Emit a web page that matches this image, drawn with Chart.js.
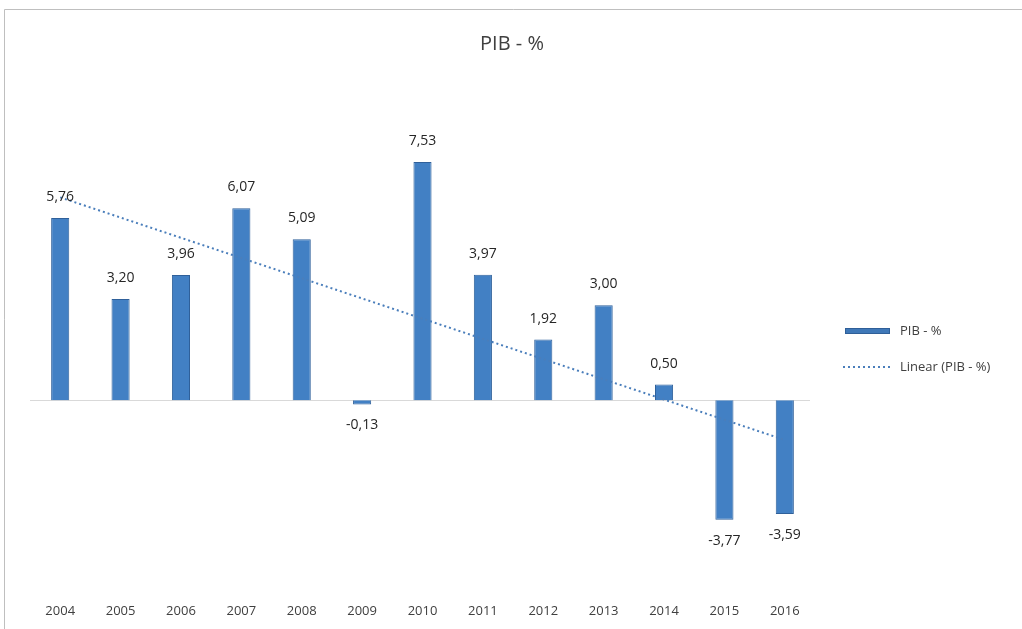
<!DOCTYPE html>
<html>
<head>
<meta charset="utf-8">
<script src="https://cdn.jsdelivr.net/npm/chart.js@4/dist/chart.umd.min.js"></script>
<style>
  html, body { margin: 0; padding: 0; background: #ffffff; }
  #wrap { width: 1022px; height: 629px; position: relative; }
</style>
</head>
<body>
<div id="wrap"><canvas id="c" width="1022" height="629"></canvas></div>
<script>
const categories = ['2004','2005','2006','2007','2008','2009','2010','2011','2012','2013','2014','2015','2016'];
const pibValues = [5.76, 3.20, 3.96, 6.07, 5.09, -0.13, 7.53, 3.97, 1.92, 3.00, 0.50, -3.77, -3.59];
// Linear trend line endpoints (first and last year)
const trendValues = [6.41, null, null, null, null, null, null, null, null, null, null, null, -1.25];
const chartTitle = 'PIB - %';
const seriesName = 'PIB - %';
const trendName = 'Linear (PIB - %)';

const FONT = "'Open Sans', 'Liberation Sans', sans-serif";
const TEXT = '#404040';

const framePlugin = {
  id: 'frame',
  beforeDraw(chart) {
    const ctx = chart.ctx;
    ctx.save();
    ctx.fillStyle = '#ffffff';
    ctx.fillRect(0, 0, chart.width, chart.height);
    ctx.strokeStyle = '#bfbfbf';
    ctx.lineWidth = 1;
    ctx.beginPath();
    ctx.moveTo(4.5, chart.height);
    ctx.lineTo(4.5, 9.5);
    ctx.lineTo(chart.width, 9.5);
    ctx.stroke();
    // zero line
    const y0 = Math.round(chart.scales.y.getPixelForValue(0)) + 0.5;
    ctx.strokeStyle = '#d9d9d9';
    ctx.beginPath();
    ctx.moveTo(chart.chartArea.left, y0);
    ctx.lineTo(chart.chartArea.right - 5, y0);
    ctx.stroke();
    // title
    ctx.font = "20px " + FONT;
    ctx.fillStyle = TEXT;
    ctx.textAlign = 'center';
    ctx.textBaseline = 'middle';
    ctx.fillText(chartTitle, 512, 44);
    ctx.restore();
  },
  afterDatasetsDraw(chart) {
    const ctx = chart.ctx;
    const meta = chart.getDatasetMeta(0);
    ctx.save();
    ctx.font = "14px " + FONT;
    ctx.fillStyle = '#262626';
    ctx.textAlign = 'center';
    ctx.textBaseline = 'middle';
    meta.data.forEach((bar, i) => {
      const v = pibValues[i];
      const txt = v.toFixed(2).replace('.', ',');
      const y = v >= 0 ? bar.y - 21 : bar.y + 21;
      ctx.fillText(txt, bar.x, y);
    });
    // legend
    const lx = chart.chartArea.right + 30;
    ctx.fillStyle = '#3f78b8';
    ctx.fillRect(lx, 328, 45, 6);
    ctx.strokeStyle = '#2f5f98';
    ctx.lineWidth = 1;
    ctx.strokeRect(lx + 0.5, 328.5, 44, 5);
    ctx.strokeStyle = '#4a7ebb';
    ctx.lineWidth = 2;
    ctx.setLineDash([2, 3]);
    ctx.beginPath();
    ctx.moveTo(lx - 2, 367);
    ctx.lineTo(lx + 48, 367);
    ctx.stroke();
    ctx.setLineDash([]);
    ctx.font = "13px " + FONT;
    ctx.fillStyle = TEXT;
    ctx.textAlign = 'left';
    ctx.fillText(seriesName, lx + 55, 331);
    ctx.fillText(trendName, lx + 55, 367);
    ctx.restore();
  }
};

new Chart(document.getElementById('c'), {
  type: 'bar',
  data: {
    labels: categories,
    datasets: [
      {
        label: seriesName,
        data: pibValues,
        backgroundColor: '#4280c4',
        borderColor: '#2f609a',
        borderWidth: 1,
        barPercentage: 0.3,
        categoryPercentage: 1.0,
        order: 2
      },
      {
        type: 'line',
        label: trendName,
        data: trendValues,
        spanGaps: true,
        borderColor: '#4a7ebb',
        borderWidth: 2,
        borderDash: [2, 3],
        pointRadius: 0,
        fill: false,
        order: 1
      }
    ]
  },
  options: {
    responsive: false,
    animation: false,
    layout: { padding: { top: 147, left: 30, right: 207, bottom: -3 } },
    plugins: {
      legend: { display: false },
      tooltip: { enabled: false },
      title: { display: false }
    },
    scales: {
      x: {
        offset: true,
        grid: { display: false, drawTicks: false },
        border: { display: false },
        ticks: { color: TEXT, font: { family: FONT, size: 13 }, padding: 13, maxRotation: 0 }
      },
      y: {
        display: false,
        min: -6,
        max: 8
      }
    }
  },
  plugins: [framePlugin]
});
</script>
</body>
</html>
